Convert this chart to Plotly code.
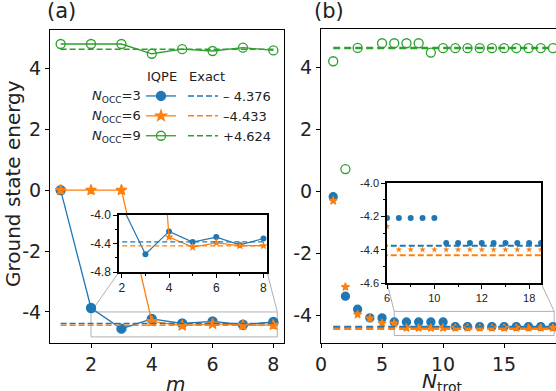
import plotly.graph_objects as go

# ---- data ----
m_vals = [1, 2, 3, 4, 5, 6, 7, 8]
iqpe_m_occ3 = [0.0, -3.87, -4.55, -4.23, -4.38, -4.31, -4.42, -4.33]
iqpe_m_occ6 = [0.0, 0.0, 0.0, -4.31, -4.45, -4.39, -4.43, -4.43]
iqpe_m_occ9 = [4.80, 4.80, 4.80, 4.48, 4.63, 4.57, 4.68, 4.59]

n_trot = list(range(1, 20))
trot_occ3 = [-0.17, -3.38, -3.80, -4.08, -4.08, -4.21, -4.21, -4.21, -4.21, -4.21,
             -4.36, -4.36, -4.36, -4.36, -4.36, -4.36, -4.36, -4.36, -4.36]
trot_occ6 = [-0.30, -3.08, -3.97, -4.10, -4.25, -4.26, -4.40, -4.40, -4.40, -4.40,
             -4.40, -4.40, -4.40, -4.40, -4.40, -4.40, -4.40, -4.40, -4.40]
trot_occ9 = [4.20, 0.72, 4.63, None, 4.78, 4.78, 4.78, 4.78, 4.48, 4.62,
             4.62, 4.62, 4.62, 4.62, 4.62, 4.62, 4.62, 4.62, 4.62]

exact = [-4.376, -4.433, 4.624]
exact_text = ["\u2013 4.376", "\u20134.433", "+4.624"]
occ_labels = ["3", "6", "9"]

BLUE, ORANGE, GREEN = "#1f77b4", "#ff7f0e", "#2ca02c"
GREY = "#b0b0b0"
FONT = "DejaVu Sans"
W, H = 556, 391

# subplot placement (paper fractions) and ranges
A_X, A_Y = [50 / W, 284 / W], [1 - 343 / H, 1 - 30 / H]
B_X, B_Y = [321 / W, 1.0], [1 - 343 / H, 1 - 29 / H]
IA_X, IA_Y = [119 / W, 267 / W], [1 - 272 / H, 1 - 215 / H]
IB_X, IB_Y = [387 / W, 541 / W], [1 - 283 / H, 1 - 183 / H]
A_XR, A_YR = [0.65, 8.35], [-5.02, 5.26]
B_XR, B_YR = [0, 19.25], [-4.89, 5.24]
IA_XR, IA_YR = [1.88, 8.15], [-4.8, -4.0]
IB_XR, IB_YR = [6, 19.0], [-4.6, -4.0]


def to_paper(v, rng, dom):
    return dom[0] + (v - rng[0]) / (rng[1] - rng[0]) * (dom[1] - dom[0])


fig = go.Figure()

series_m = [iqpe_m_occ3, iqpe_m_occ6, iqpe_m_occ9]
series_t = [trot_occ3, trot_occ6, trot_occ9]
colors = [BLUE, ORANGE, GREEN]
symbols = ["circle", "star", "circle-open"]
size_a = [9, 8, 9]
size_b = [8, 6, 9]

# panel (a)
for ys, c, s, sz in zip(series_m, colors, symbols, size_a):
    fig.add_trace(go.Scatter(x=m_vals, y=ys, mode="lines+markers", name=" ",
                             line=dict(color=c, width=1.3),
                             marker=dict(symbol=s, size=sz, color=c, line=dict(width=1.3, color=c)),
                             xaxis="x", yaxis="y", legend="legend"))
for e, c, t in zip(exact, colors, exact_text):
    fig.add_trace(go.Scatter(x=m_vals, y=[e] * len(m_vals), mode="lines", name=t,
                             line=dict(color=c, width=1.5, dash="6px,3px"),
                             xaxis="x", yaxis="y", legend="legend2"))

# panel (b)
for ys, c, s, sz in zip(series_t, colors, symbols, size_b):
    fig.add_trace(go.Scatter(x=n_trot, y=ys, mode="markers", showlegend=False,
                             marker=dict(symbol=s, size=sz, color=c, line=dict(width=1.3, color=c)),
                             xaxis="x2", yaxis="y2"))
for e, c in zip(exact, colors):
    fig.add_trace(go.Scatter(x=n_trot, y=[e] * len(n_trot), mode="lines", showlegend=False,
                             line=dict(color=c, width=2.5, dash="7px,4px"),
                             xaxis="x2", yaxis="y2"))

# inset (a)
for ys, c, s, sz in zip(series_m[:2], colors, symbols, [6, 7]):
    fig.add_trace(go.Scatter(x=m_vals, y=ys, mode="lines+markers", showlegend=False,
                             line=dict(color=c, width=1.2),
                             marker=dict(symbol=s, size=sz, color=c),
                             xaxis="x3", yaxis="y3"))
for e, c in zip(exact[:2], colors):
    fig.add_trace(go.Scatter(x=m_vals, y=[e] * len(m_vals), mode="lines", showlegend=False,
                             line=dict(color=c, width=1.3, dash="5px,3px"),
                             xaxis="x3", yaxis="y3"))

# inset (b)
for ys, c, s, sz in zip(series_t[:2], colors, symbols, [6, 5]):
    fig.add_trace(go.Scatter(x=n_trot, y=ys, mode="markers", showlegend=False,
                             marker=dict(symbol=s, size=sz, color=c),
                             xaxis="x4", yaxis="y4"))
for e, c in zip(exact[:2], colors):
    fig.add_trace(go.Scatter(x=n_trot, y=[e] * len(n_trot), mode="lines", showlegend=False,
                             line=dict(color=c, width=2, dash="6px,3px"),
                             xaxis="x4", yaxis="y4"))

main_tick = dict(ticks="outside", ticklen=4, tickwidth=1.2, tickcolor="black",
                 showline=True, linecolor="black", linewidth=1.2, showgrid=False,
                 zeroline=False, tickfont=dict(family=FONT, size=19, color="#222"))
inset_tick = dict(ticks="outside", ticklen=4, tickwidth=1, tickcolor="black",
                  showline=True, linecolor="black", linewidth=1.5, mirror=True, showgrid=False,
                  zeroline=False, tickfont=dict(family="Liberation Sans", size=12, color="#222"))

yt = [-4, -2, 0, 2, 4]
ytt = ["-4", "-2", "0", "2", "4"]

fig.update_layout(
    width=W, height=H, margin=dict(l=0, r=0, t=0, b=0, autoexpand=False),
    paper_bgcolor="white", plot_bgcolor="white", font=dict(family=FONT, color="#222"),
    xaxis=dict(main_tick, domain=A_X, range=A_XR, mirror=True, tickvals=[2, 4, 6, 8]),
    yaxis=dict(main_tick, domain=A_Y, range=A_YR, mirror=True, tickvals=yt, ticktext=ytt),
    xaxis2=dict(main_tick, domain=B_X, range=B_XR, mirror=True, anchor="y2",
                tickvals=[0, 5, 10, 15]),
    yaxis2=dict(main_tick, domain=B_Y, range=B_YR, anchor="x2", tickvals=yt, ticktext=ytt),
    xaxis3=dict(inset_tick, domain=IA_X, range=IA_XR, anchor="y3", tickvals=[2, 4, 6, 8],
                minor=dict(tickvals=[3, 5, 7], ticklen=2, ticks="outside")),
    yaxis3=dict(inset_tick, domain=IA_Y, range=IA_YR, anchor="x3",
                tickvals=[-4.8, -4.4, -4.0], ticktext=["-4.8", "-4.4", "-4.0"],
                minor=dict(tickvals=[-4.6, -4.2], ticklen=2, ticks="outside")),
    xaxis4=dict(inset_tick, domain=IB_X, range=IB_XR, anchor="y4",
                tickvals=[6, 10, 14, 18], ticktext=["6", "10", "12", "18"],
                tickfont=dict(family="Liberation Sans", size=11, color="#222"),
                minor=dict(tickvals=[8, 12, 16], ticklen=2, ticks="outside")),
    yaxis4=dict(inset_tick, domain=IB_Y, range=IB_YR, anchor="x4",
                tickvals=[-4.6, -4.4, -4.2, -4.0], ticktext=["-4.6", "-4.4", "-4.2", "-4.0"],
                tickfont=dict(family="Liberation Sans", size=11, color="#222"),
                minor=dict(tickvals=[-4.5, -4.3, -4.1], ticklen=2, ticks="outside")),
    legend=dict(x=141 / W, y=1 - 81 / H, xanchor="left", yanchor="top",
                bgcolor="rgba(0,0,0,0)", font=dict(family=FONT, size=13)),
    legend2=dict(x=183 / W, y=1 - 81 / H, xanchor="left", yanchor="top",
                 bgcolor="rgba(0,0,0,0)", font=dict(family=FONT, size=13, color="#222")),
)

# zoom rectangles and connector lines (mark_inset style)
shapes = []
ra = dict(x0=2.0, x1=8.13, y0=-4.82, y1=-4.0)
rb = dict(x0=6.0, x1=19.1, y0=-4.65, y1=-3.87)
shapes.append(dict(type="rect", xref="x", yref="y", line=dict(color=GREY, width=1),
                   layer="below", **ra))
shapes.append(dict(type="rect", xref="x2", yref="y2", line=dict(color=GREY, width=1),
                   layer="below", **rb))
for ix, iy, r, xr, yr, xd, yd in [(IA_X, IA_Y, ra, A_XR, A_YR, A_X, A_Y),
                                  (IB_X, IB_Y, rb, B_XR, B_YR, B_X, B_Y)]:
    for side in (0, 1):
        px = to_paper(r["x0"] if side == 0 else r["x1"], xr, xd)
        py = to_paper(r["y1"], yr, yd)
        shapes.append(dict(type="line", xref="paper", yref="paper",
                           x0=ix[side], y0=iy[0], x1=px, y1=py,
                           line=dict(color=GREY, width=1), layer="below"))
fig.update_layout(shapes=shapes)

ann = [
    dict(text="(a)", x=61 / W, y=1 - 11 / H, font=dict(size=21)),
    dict(text="(b)", x=329 / W, y=1 - 11 / H, font=dict(size=21)),
    dict(text="Ground state energy", x=13 / W, y=1 - 184 / H, textangle=-90, font=dict(size=20)),
    dict(text="<i>m</i>", x=175 / W, y=1 - 384 / H, font=dict(size=20)),
    dict(text="<i>N</i><sub>trot</sub>", x=442 / W, y=1 - 382 / H, font=dict(size=20)),
    dict(text="IQPE", x=162 / W, y=1 - 77 / H, font=dict(size=13)),
    dict(text="Exact", x=207 / W, y=1 - 77 / H, font=dict(size=13)),
]
for i, lab in enumerate(occ_labels):
    ann.append(dict(text="<i>N</i><sub>OCC</sub>=" + lab, x=143 / W, y=1 - (96 + 20 * i) / H,
                    xanchor="right", font=dict(size=13)))
for a in ann:
    a.setdefault("xanchor", "center")
    a.update(xref="paper", yref="paper", showarrow=False, yanchor="middle")
    a["font"].update(family=FONT, color="#222")
fig.update_layout(annotations=ann)

# the page body has a default 8px margin; drop it so the figure fills the window
fig.write_html("out.html", config={"displayModeBar": False},
               post_script="document.body.style.margin='0px';")
